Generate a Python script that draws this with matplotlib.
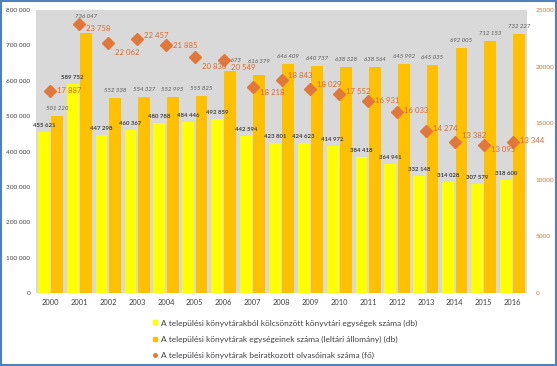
import matplotlib
matplotlib.use('Agg')
import matplotlib.pyplot as plt
from matplotlib.patches import Rectangle
from matplotlib.lines import Line2D
import numpy as np

years = [str(y) for y in range(2000, 2017)]
loans = [455621, 589752, 447298, 460367, 480788, 484446, 492859, 442594, 423801,
         424623, 414972, 384418, 364941, 332148, 314028, 307579, 318600]
stock = [501220, 736047, 552338, 554327, 552995, 555825, 627673, 616379, 646409,
         640737, 638328, 638564, 645992, 645035, 692005, 712153, 732227]
readers = [17887, 23758, 22062, 22457, 21885, 20830, 20549, 18218, 18843,
           18029, 17552, 16931, 16033, 14274, 13382, 13095, 13344]
left_ticks = [0, 100000, 200000, 300000, 400000, 500000, 600000, 700000, 800000]
right_ticks = [0, 5000, 10000, 15000, 20000, 25000]
legend_labels = [
    "A települési könyvtárakból kölcsönzött könyvtári egységek száma (db)",
    "A települési könyvtárak egységeinek száma (leltári állomány) (db)",
    "A települési könyvtárak beiratkozott olvasóinak száma (fő)",
]

# label placement tweaks (pixels; reader offsets positive = downward)
stock_label_dy = [5, 14, 5, 5, 5, 5, 8, 11, 5, 5, 5, 5, 5, 5, 5, 5, 5]
reader_label_dy = [0, 4, 9, -3, 0, 9, 7, 6, -4, -4, -3, -1, -1, -3, -6, 5, -1]

FONT = 'Lato'
plt.rcParams['font.family'] = [FONT, 'DejaVu Sans']

def sp(v):
    return f"{v:,}".replace(",", " ")

W, H = 557, 366
fig = plt.figure(figsize=(W / 100, H / 100), dpi=100)
fig.patch.set_facecolor('white')

ax = fig.add_axes([36 / W, 1 - 293 / H, 491 / W, 283 / H])
ax.set_facecolor('#D9D9D9')
x = np.arange(len(years))
bw = 0.41
ax.bar(x - 0.23, loans, bw, color='#FFFF00', zorder=2)
ax.bar(x + 0.23, stock, bw, color='#FFC000', zorder=2)
ax.set_xlim(-0.5, len(years) - 0.5)
ax.set_ylim(0, 800000)
ax.set_yticks(left_ticks)
ax.set_yticklabels([sp(v) for v in left_ticks], fontsize=4.6, color='#404040')
ax.set_xticks(x)
ax.set_xticklabels(years, fontsize=5.4, color='#404040')
ax.tick_params(length=0, pad=4)
for s in ax.spines.values():
    s.set_visible(False)

for i, v in enumerate(loans):
    ax.annotate(sp(v), (x[i] - 0.23, v), xytext=(0, 4), textcoords='offset pixels',
                ha='center', va='bottom', fontsize=4.3, fontweight='bold',
                color='#404040', zorder=5)
for i, v in enumerate(stock):
    ax.annotate(sp(v), (x[i] + 0.23, v), xytext=(0, stock_label_dy[i]),
                textcoords='offset pixels', ha='center', va='bottom',
                fontsize=4.3, fontstyle='italic', color='#595959', zorder=5)

ax2 = ax.twinx()
ax2.set_ylim(0, 25000)
ax2.set_yticks(right_ticks)
ax2.set_yticklabels([str(v) for v in right_ticks], fontsize=4.6, color='#C8773A')
ax2.tick_params(length=0, pad=6)
for s in ax2.spines.values():
    s.set_visible(False)
ax2.plot(x, readers, linestyle='none', marker='D', markersize=6.2,
         color='#E2773A', zorder=6)
for i, v in enumerate(readers):
    ax2.annotate(sp(v), (x[i], v), xytext=(7, -reader_label_dy[i]),
                 textcoords='offset pixels', ha='left', va='center',
                 fontsize=5.6, color='#D9692B', zorder=7)

handles = [
    Line2D([], [], linestyle='none', marker='s', markersize=3.5, color='#FFFF00'),
    Line2D([], [], linestyle='none', marker='s', markersize=3.5, color='#FFC000'),
    Line2D([], [], linestyle='none', marker='o', markersize=2.5, color='#E2773A'),
]
leg = fig.legend(handles, legend_labels, loc='upper center',
                 bbox_to_anchor=(285 / W, 1 - 316 / H), ncol=1, frameon=False,
                 fontsize=6.0, handlelength=0.6, handletextpad=0.4,
                 labelspacing=1.1, borderaxespad=0)
for t in leg.get_texts():
    t.set_color('#404040')

fig.patches.append(Rectangle((0.002, 0.003), 0.996, 0.994, transform=fig.transFigure,
                             fill=False, edgecolor='#4F81BD', linewidth=1.5))

fig.savefig('out.png', dpi=100, facecolor='white')
